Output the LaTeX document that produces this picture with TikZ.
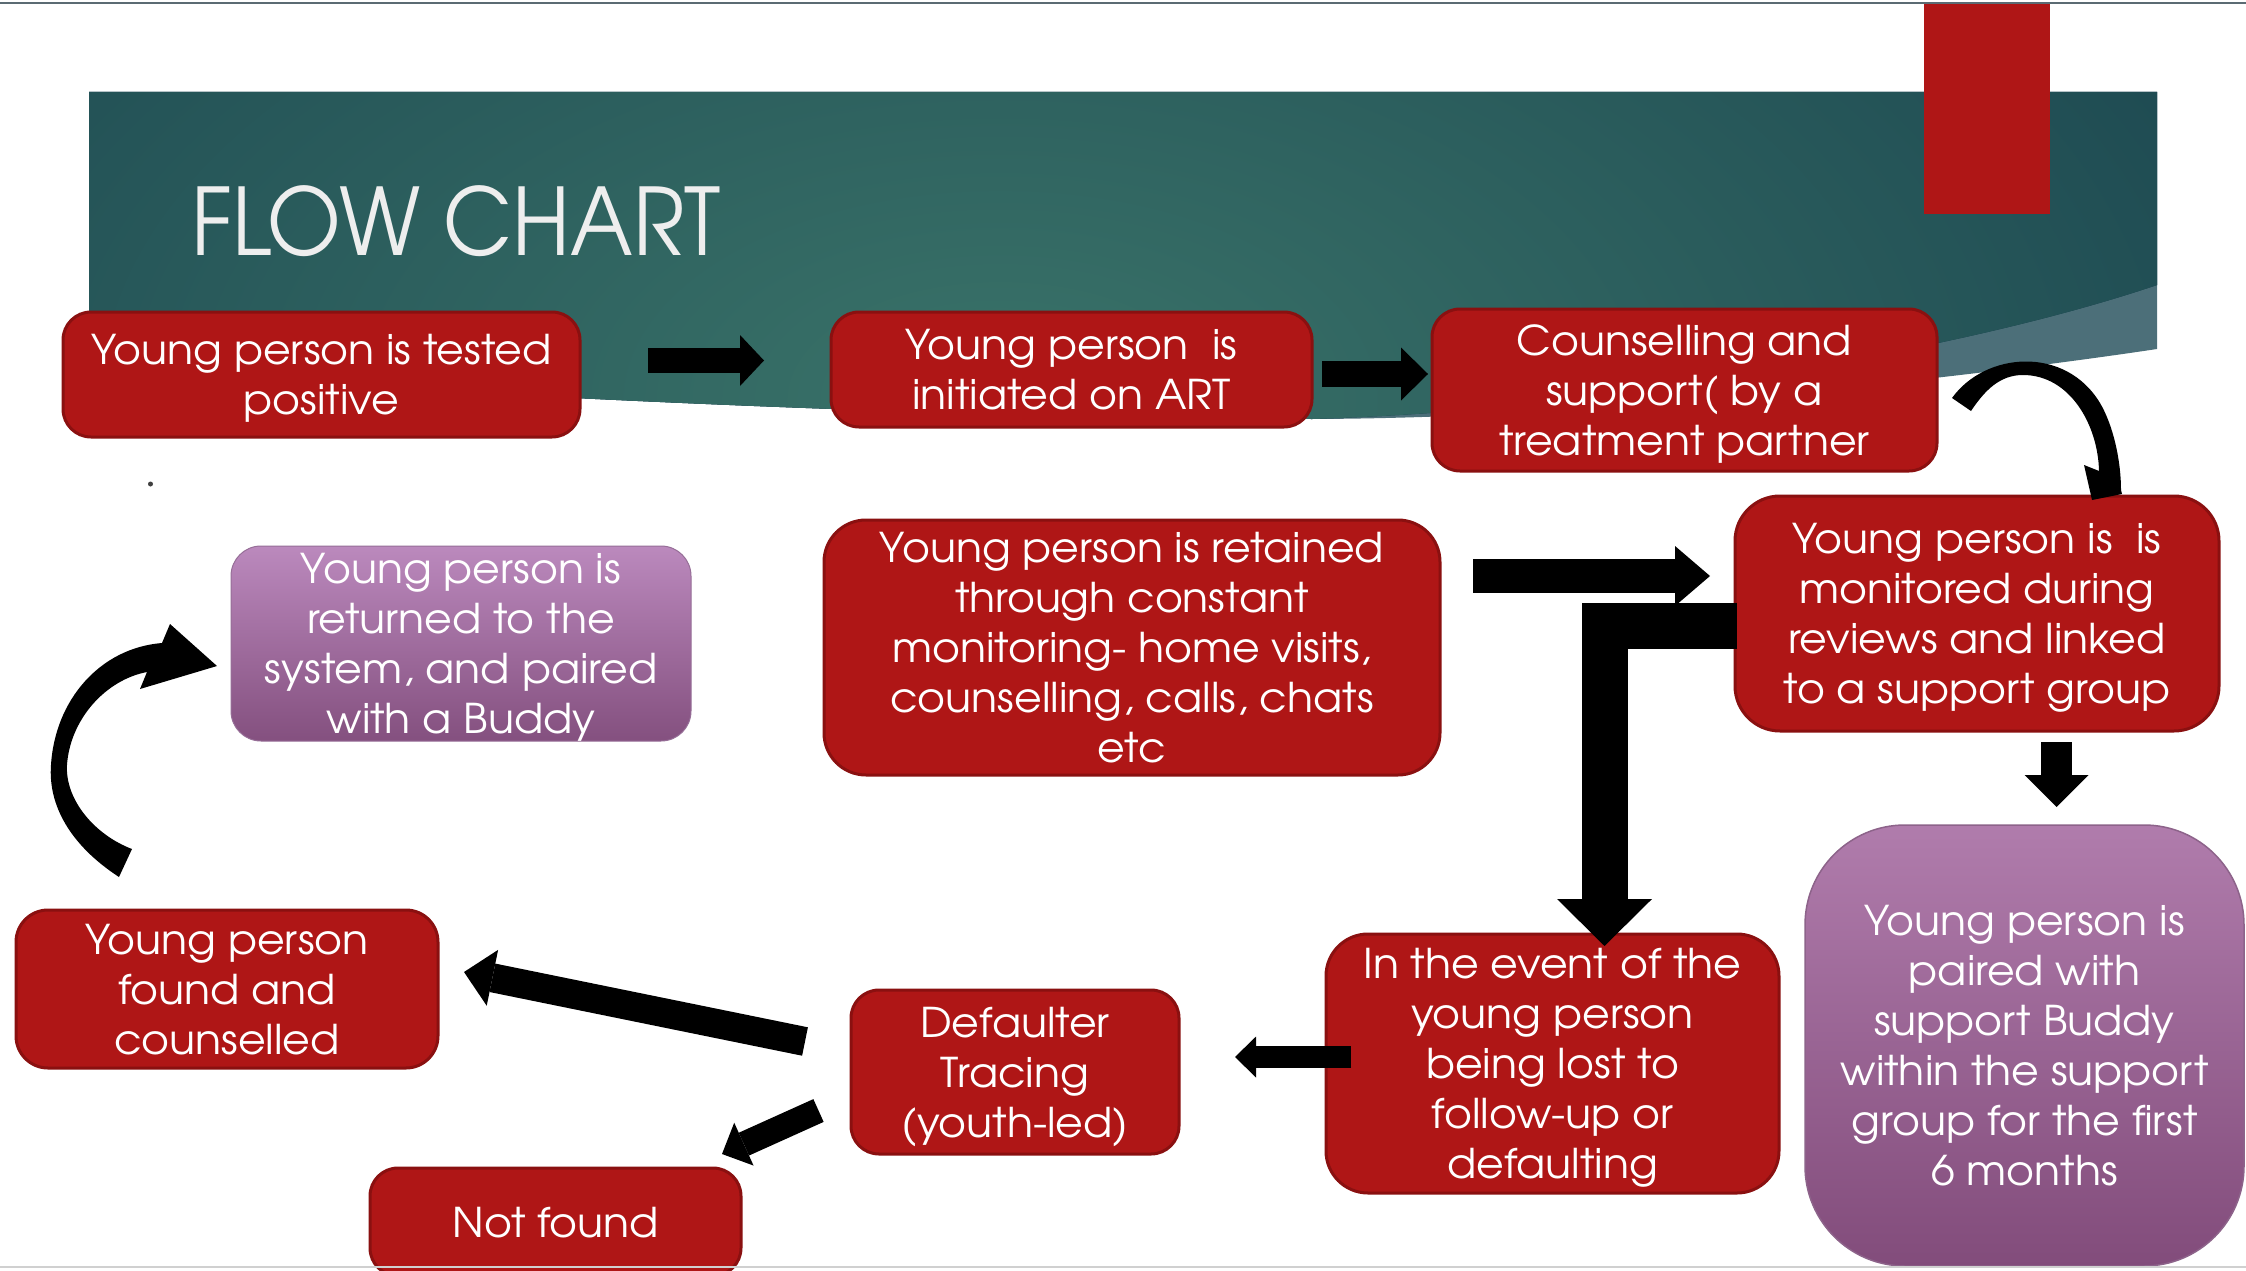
\documentclass[tikz,border=0pt]{standalone}
\usepackage{fontspec}
\usetikzlibrary{arrows.meta}
\newfontfamily\gothic{texgyreadventor-regular.otf}[FakeStretch=1.04]
\newfontfamily\gothictitle{texgyreadventor-regular.otf}[FakeStretch=0.91]
\definecolor{boxred}{HTML}{AF1616}
\definecolor{boxedge}{HTML}{8A1010}
\definecolor{bannerdark}{HTML}{143C4A}
\definecolor{bannerlight}{HTML}{3A7369}
\definecolor{bandcol}{HTML}{4C6F79}
\definecolor{purpletopA}{HTML}{BB89BD}
\definecolor{purplebotA}{HTML}{84507F}
\definecolor{purpletopB}{HTML}{B07CAC}
\definecolor{purplebotB}{HTML}{824C7B}
\definecolor{titlecol}{HTML}{EEEEEE}
\definecolor{topline}{HTML}{5B6B73}
\definecolor{botline}{HTML}{D0D0D0}
\begin{document}
\begin{tikzpicture}[x=1pt,y=-1pt,
  boxtext/.style={text=white, align=center, inner sep=0pt, text depth=0pt, font=\gothic\fontsize{41}{50}\selectfont},
  redbox/.style={boxtext, draw=boxedge, line width=3pt, fill=boxred, rounded corners=28pt},
  purpleA/.style={boxtext, top color=purpletopA, bottom color=purplebotA, draw=purpletopA!80!black, line width=1pt, rounded corners=30pt},
  purpleB/.style={boxtext, top color=purpletopB, bottom color=purplebotB, draw=purpletopB!80!black, line width=1.5pt, rounded corners=100pt},
  blockarrow/.style={draw=black, line width=#1, line join=miter}
]
\useasboundingbox (0,0) rectangle (2246,1271);
\fill[white] (0,0) rectangle (2246,1271);

% banner
\fill[bandcol] (89,92) -- (2157,92) -- (2157,349) .. controls (1950,380) and (1600,418) .. (1312,419)
  .. controls (900,418) and (400,392) .. (89,368) -- cycle;
\begin{scope}
\clip (89,92) -- (2157,92) -- (2157,285) .. controls (1950,355) and (1600,410) .. (1312,419)
  .. controls (900,418) and (400,392) .. (89,368) -- cycle;
\fill[bannerdark] (80,80) rectangle (2170,430);
\shade[inner color=bannerlight, outer color=bannerdark] (1000,400) ellipse [x radius=1800, y radius=1000];
\end{scope}

% top line and red bar
\draw[topline, line width=2pt] (0,3.5) -- (2246,3.5);
\fill[boxred] (1924,4.5) rectangle (2050,214);

% title
\node[anchor=base west, inner sep=0pt, text=titlecol, font=\gothictitle\fontsize{93}{100}\selectfont] (title) at (191,255) {FLOW CHART};

% stray dot
\fill[black!75] (150.5,484) circle (2.5);

% boxes
\node[redbox, minimum width=517pt, minimum height=125pt] (b1) at (321.5,374.5) {Young person is tested\\positive};
\node[redbox, minimum width=481pt, minimum height=115pt] (b2) at (1071.5,369.5) {Young person\ \ is\\initiated on ART};
\node[redbox, minimum width=505pt, minimum height=162pt] (b3) at (1684.5,390) {Counselling and\\support( by a\\treatment partner};
\node[redbox, rounded corners=45pt, minimum width=484pt, minimum height=235pt] (b4) at (1977,613.5) {Young person is\ \ is\\monitored during\\reviews and linked\\to a support group};
\node[purpleB, minimum width=439pt, minimum height=441pt] (b5) at (2024.5,1045.5) {Young person is\\paired with\\support Buddy\\within the support\\group for the first\\6 months};
\node[redbox, rounded corners=42pt, minimum width=616pt, minimum height=255pt] (b6) at (1132,647.5) {Young person is retained\\through constant\\monitoring- home visits,\\counselling, calls, chats\\etc};
\node[purpleA, minimum width=460pt, minimum height=195pt] (b7) at (461,643.5) {Young person is\\returned to the\\system, and paired\\with a Buddy};
\node[redbox, rounded corners=42pt, minimum width=453pt, minimum height=259pt] (b8) at (1552.5,1063.5) {In the event of the\\young person\\being lost to\\follow-up or\\defaulting};
\node[redbox, minimum width=328pt, minimum height=164pt] (b9) at (1015,1072) {Defaulter\\Tracing\\(youth-led)};
\node[redbox, rounded corners=32pt, minimum width=422pt, minimum height=158pt] (b10) at (227,989) {Young person\\found and\\counselled};
\node[redbox, minimum width=371pt, minimum height=108pt] (b11) at (555.5,1222) {Not found};

% arrow coordinates
\coordinate (a1s) at (648,360.5);   \coordinate (a1e) at (764,360.5);
\coordinate (a2s) at (1322,374);    \coordinate (a2e) at (1428,374);
\coordinate (a4s) at (1473,576);    \coordinate (a4e) at (1710,576);
\coordinate (a5s) at (1737,626);    \coordinate (a5m) at (1604.5,626);  \coordinate (a5e) at (1604.5,946);
\coordinate (a6s) at (2056.5,742);  \coordinate (a6e) at (2056.5,807);
\coordinate (a7s) at (1351,1057);   \coordinate (a7e) at (1235,1057);
\coordinate (a8s) at (805,1041.5);  \coordinate (a8e) at (464,972);
\coordinate (a9s) at (818.5,1110.5);\coordinate (a9e) at (722,1154);

\draw[blockarrow=25pt, -{Triangle[length=24pt,width=51pt,line width=0pt]}] (a1s) -- (a1e);
\draw[blockarrow=26pt, -{Triangle[length=27pt,width=53pt,line width=0pt]}] (a2s) -- (a2e);
\draw[blockarrow=34pt, -{Triangle[length=35pt,width=60pt,line width=0pt]}] (a4s) -- (a4e);
\draw[blockarrow=46pt, -{Triangle[length=47pt,width=95pt,line width=0pt]}] (a5s) -- (a5m) -- (a5e);
\draw[blockarrow=31pt, -{Triangle[length=32pt,width=64pt,line width=0pt]}] (a6s) -- (a6e);
\draw[blockarrow=22pt, -{Triangle[length=21pt,width=41pt,line width=0pt]}] (a7s) -- (a7e);
\draw[blockarrow=29pt, -{Triangle[length=29pt,width=57pt,line width=0pt]}] (a8s) -- (a8e);
\draw[blockarrow=25pt, -{Triangle[length=24pt,width=47pt,line width=0pt]}] (a9s) -- (a9e);

% curved arrow b3 -> b4
\fill[black] (1952,398) .. controls (1985,352) and (2065,345) .. (2100,403)
  .. controls (2113,425) and (2121,460) .. (2121,490) -- (2122,494) -- (2092,500) -- (2084,465) -- (2099,471)
  .. controls (2098,425) and (2070,375) .. (2023,375)
  .. controls (2000,375) and (1985,390) .. (1971,411) -- cycle;

% curved arrow b10 -> b7
\fill[black] (119,877) .. controls (70,845) and (48,805) .. (51,765)
  .. controls (55,700) and (100,648) .. (162,643) -- (170,624) -- (217,666) -- (140,689) -- (147,672)
  .. controls (105,680) and (70,720) .. (67,765)
  .. controls (65,800) and (95,835) .. (132,849) -- cycle;

% bottom line
\draw[botline, line width=2pt] (0,1267) -- (2246,1267);
\end{tikzpicture}
\end{document}
